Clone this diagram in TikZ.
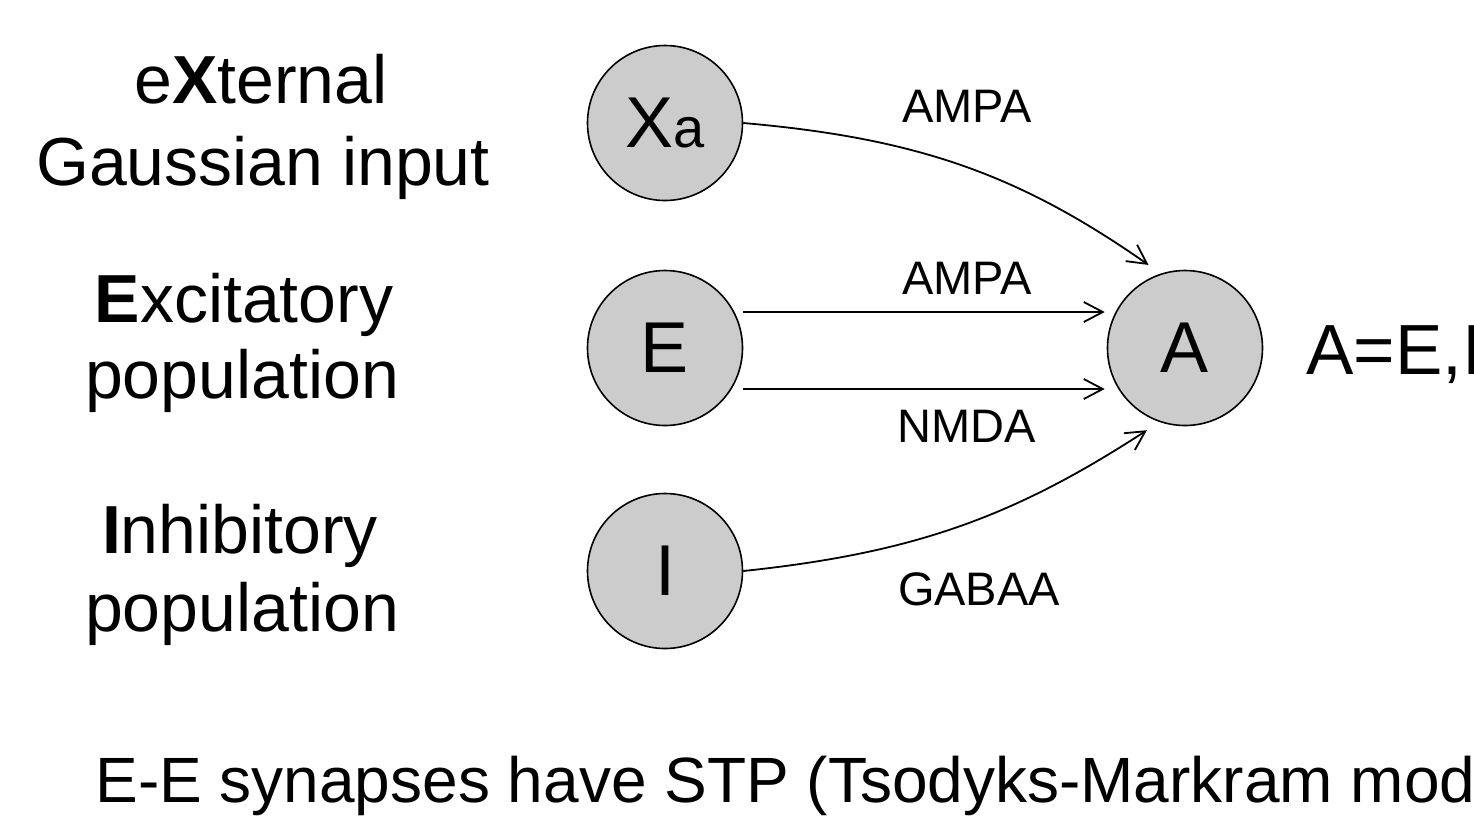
\documentclass[tikz,border=0pt]{standalone}
\usepackage{fontspec}
\setmainfont{Liberation Sans}
\usetikzlibrary{arrows.meta}
\definecolor{popfill}{HTML}{CCCCCC}
\tikzset{
  pop/.style={circle, draw=black, line width=0.8pt, fill=popfill,
    minimum size=77.5pt, inner sep=0pt, font=\fontsize{36}{40}\selectfont},
  big/.style={anchor=base, inner sep=0pt, font=\fontsize{34}{40}\selectfont},
  syn/.style={anchor=base, inner sep=0pt, font=\fontsize{23.5}{28}\selectfont},
  conn/.style={line width=0.9pt, -{Straight Barb[length=9.5pt,width=10pt,line width=0.9pt]}},
}
\begin{document}
\begin{tikzpicture}[x=0.5pt, y=-0.5pt]
\useasboundingbox (0,0) rectangle (1474,816);
\clip (0,0) rectangle (1474,816);

% left-hand descriptions of the three source populations
\node[big] (xl1) at (261,103) {e\textbf{X}ternal};
\node[big] (xl2) at (263,185) {Gaussian input};
\node[big] (el1) at (244,322) {\textbf{E}xcitatory};
\node[big] (el2) at (242,398) {population};
\node[big] (il1) at (240,553) {\textbf{I}nhibitory};
\node[big] (il2) at (242,631) {population};

% populations
\node[pop] (Xa) at (665,123) {X\fontsize{28}{30}\selectfont a};
\node[pop] (E)  at (665,348) {E};
\node[pop] (I)  at (665,571) {I};
\node[pop] (A)  at (1185,348) {A};

\node[anchor=base west, inner sep=0pt, font=\fontsize{35.5}{40}\selectfont] (alab) at (1306,374) {A=E,I};

% synaptic connections
\draw[conn, shorten >=7.5pt] (Xa.east) to[out=-5, in=145] (A.108);
\draw[conn, shorten >=1pt] ([yshift=18pt]E.east) -- ([yshift=18pt]A.west);
\draw[conn, shorten >=1pt] ([yshift=-20.5pt]E.east) -- ([yshift=-20.5pt]A.west);
\draw[conn, shorten >=7.5pt] (I.east) to[out=6, in=-147] (A.-109);

% receptor labels
\node[syn] (s1) at (967,122) {AMPA};
\node[syn] (s2) at (967,294) {AMPA};
\node[syn] (s3) at (967,442) {NMDA};
\node[syn] (s4) at (979,605) {GABAA};

% footnote
\node[anchor=base west, inner sep=0pt, font=\fontsize{32}{38}\selectfont] (note) at (95,802) {E-E synapses have STP (Tsodyks-Markram model)};
\end{tikzpicture}
\end{document}
